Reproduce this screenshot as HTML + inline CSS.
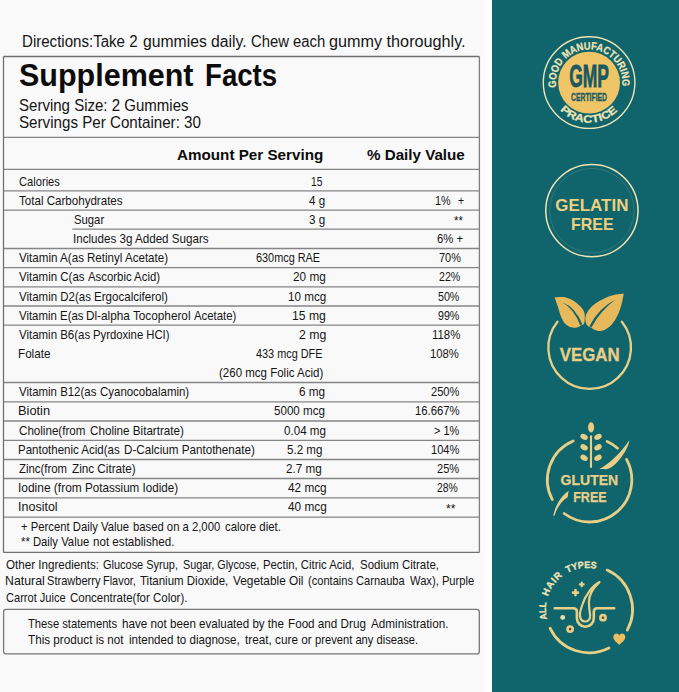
<!DOCTYPE html>
<html><head><meta charset="utf-8"><title>Supplement Facts</title>
<style>
html,body{margin:0;padding:0}
body{width:679px;height:692px;position:relative;overflow:hidden;background:#f9f9f9;font-family:"Liberation Sans",sans-serif;color:#151515}
.t{position:absolute;white-space:pre;line-height:1;transform-origin:0 0;display:block}
#white{position:absolute;left:481px;top:0;width:12px;height:692px;background:linear-gradient(90deg,#f9f9f9 0,#fdfdfd 45%,#fff 75%)}
#side{position:absolute;left:492px;top:0;width:187px;height:692px;background:#10646c}
#badges,#lines{position:absolute;left:0;top:0}
</style></head><body>
<svg id="lines" width="679" height="692" viewBox="0 0 679 692" fill="none" stroke-width="1.3">
<line x1="3.5" y1="56.5" x2="479.4" y2="56.5" stroke="#707070"/>
<line x1="3.5" y1="137.3" x2="479.4" y2="137.3" stroke="#858585"/>
<line x1="3.5" y1="169.4" x2="479.4" y2="169.4" stroke="#858585"/>
<line x1="3.5" y1="190.8" x2="479.4" y2="190.8" stroke="#858585"/>
<line x1="3.5" y1="210.2" x2="479.4" y2="210.2" stroke="#858585"/>
<line x1="72.2" y1="229.2" x2="479.4" y2="229.2" stroke="#858585"/>
<line x1="3.5" y1="248.5" x2="479.4" y2="248.5" stroke="#858585"/>
<line x1="3.5" y1="267.7" x2="479.4" y2="267.7" stroke="#858585"/>
<line x1="3.5" y1="286.9" x2="479.4" y2="286.9" stroke="#858585"/>
<line x1="3.5" y1="306.0" x2="479.4" y2="306.0" stroke="#858585"/>
<line x1="3.5" y1="325.2" x2="479.4" y2="325.2" stroke="#858585"/>
<line x1="3.5" y1="382.5" x2="479.4" y2="382.5" stroke="#858585"/>
<line x1="3.5" y1="401.8" x2="479.4" y2="401.8" stroke="#858585"/>
<line x1="3.5" y1="421.0" x2="479.4" y2="421.0" stroke="#858585"/>
<line x1="3.5" y1="440.3" x2="479.4" y2="440.3" stroke="#858585"/>
<line x1="3.5" y1="459.5" x2="479.4" y2="459.5" stroke="#858585"/>
<line x1="3.5" y1="478.5" x2="479.4" y2="478.5" stroke="#858585"/>
<line x1="3.5" y1="497.8" x2="479.4" y2="497.8" stroke="#858585"/>
<line x1="3.5" y1="517.1" x2="479.4" y2="517.1" stroke="#858585"/>
<line x1="3.5" y1="552.4" x2="479.4" y2="552.4" stroke="#707070"/>
<line x1="3.5" y1="56.5" x2="3.5" y2="552.4" stroke="#707070"/>
<line x1="479.4" y1="56.5" x2="479.4" y2="552.4" stroke="#808080"/>
<rect x="3.6" y="609.4" width="475.7" height="44.5" rx="2.5" stroke="#777"/>
</svg>
<span class="t" style="left:22.06px;top:34px;font-size:16.0px;transform:scaleX(0.9416)">Directions:Take 2</span>
<span class="t" style="left:143.40px;top:34px;font-size:16.0px;transform:scaleX(0.9820)">gummies daily.</span>
<span class="t" style="left:250.60px;top:34px;font-size:16.0px;transform:scaleX(0.9274)">Chew each</span>
<span class="t" style="left:329.40px;top:34px;font-size:16.0px;transform:scaleX(1.0125)">gummy thoroughly.</span>
<span class="t" style="left:19.30px;top:60px;font-size:31px;transform:scaleX(0.9837);font-weight:700;color:#0c0c0c">Supplement</span>
<span class="t" style="left:205.02px;top:60px;font-size:31px;transform:scaleX(0.8914);font-weight:700;color:#0c0c0c">Facts</span>
<span class="t" style="left:18.80px;top:98px;font-size:15.7px;transform:scaleX(0.9580)">Serving Size: 2 Gummies</span>
<span class="t" style="left:18.80px;top:115px;font-size:15.7px;transform:scaleX(0.9659)">Servings Per Container: 30</span>
<span class="t" style="left:176.50px;top:147px;font-size:15.2px;transform:scaleX(1.0019);font-weight:700;color:#0c0c0c">Amount Per Serving</span>
<span class="t" style="left:367.00px;top:147px;font-size:15.2px;transform:scaleX(0.9982);font-weight:700;color:#0c0c0c">% Daily Value</span>
<span class="t" style="left:19.20px;top:176px;font-size:12.2px;transform:scaleX(0.9146)">Calories</span>
<span class="t" style="left:310.90px;top:176px;font-size:12.2px;transform:scaleX(0.8347)">15</span>
<span class="t" style="left:19.20px;top:195px;font-size:12.2px;transform:scaleX(0.9498)">Total Carbohydrates</span>
<span class="t" style="left:309.10px;top:195px;font-size:12.2px;transform:scaleX(0.9527)">4 g</span>
<span class="t" style="left:434.60px;top:195px;font-size:12.2px;transform:scaleX(0.8831)">1%</span>
<span class="t" style="left:457.60px;top:195px;font-size:12.2px;transform:scaleX(0.8571)">+</span>
<span class="t" style="left:73.60px;top:214px;font-size:12.2px;transform:scaleX(0.9272)">Sugar</span>
<span class="t" style="left:309.10px;top:214px;font-size:12.2px;transform:scaleX(0.9527)">3 g</span>
<span class="t" style="left:454.00px;top:215px;font-size:12.2px;transform:scaleX(0.9340)">**</span>
<span class="t" style="left:72.65px;top:233px;font-size:12.2px;transform:scaleX(0.9530)">Includes 3g Added Sugars</span>
<span class="t" style="left:436.90px;top:233px;font-size:12.2px;transform:scaleX(0.9285)">6% +</span>
<span class="t" style="left:19.20px;top:252px;font-size:12.2px;transform:scaleX(0.9524)">Vitamin A(as</span>
<span class="t" style="left:87.45px;top:252px;font-size:12.2px;transform:scaleX(0.9498)">Retinyl Acetate)</span>
<span class="t" style="left:256.00px;top:252px;font-size:12.2px;transform:scaleX(0.8929)">630mcg RAE</span>
<span class="t" style="left:439.00px;top:252px;font-size:12.2px;transform:scaleX(0.8959)">70%</span>
<span class="t" style="left:19.20px;top:271px;font-size:12.2px;transform:scaleX(0.9432)">Vitamin C(as</span>
<span class="t" style="left:88.40px;top:271px;font-size:12.2px;transform:scaleX(0.9328)">Ascorbic Acid)</span>
<span class="t" style="left:293.00px;top:271px;font-size:12.2px;transform:scaleX(0.9669)">20 mg</span>
<span class="t" style="left:438.50px;top:271px;font-size:12.2px;transform:scaleX(0.8755)">22%</span>
<span class="t" style="left:19.20px;top:291px;font-size:12.2px;transform:scaleX(0.9420)">Vitamin D2(as</span>
<span class="t" style="left:93.75px;top:291px;font-size:12.2px;transform:scaleX(0.9488)">Ergocalciferol)</span>
<span class="t" style="left:287.50px;top:291px;font-size:12.2px;transform:scaleX(0.9569)">10 mcg</span>
<span class="t" style="left:438.00px;top:291px;font-size:12.2px;transform:scaleX(0.8755)">50%</span>
<span class="t" style="left:19.20px;top:310px;font-size:12.2px;transform:scaleX(0.9365)">Vitamin E(as</span>
<span class="t" style="left:86.33px;top:310px;font-size:12.2px;transform:scaleX(0.9664)">Dl-alpha Tocopherol</span>
<span class="t" style="left:194.10px;top:310px;font-size:12.2px;transform:scaleX(0.9332)">Acetate)</span>
<span class="t" style="left:292.00px;top:310px;font-size:12.2px;transform:scaleX(0.9971)">15 mg</span>
<span class="t" style="left:438.00px;top:310px;font-size:12.2px;transform:scaleX(0.8755)">99%</span>
<span class="t" style="left:19.20px;top:329px;font-size:12.2px;transform:scaleX(0.9411)">Vitamin B6(as</span>
<span class="t" style="left:92.97px;top:329px;font-size:12.2px;transform:scaleX(0.9256)">Pyrdoxine HCI)</span>
<span class="t" style="left:298.50px;top:329px;font-size:12.2px;transform:scaleX(1.0070)">2 mg</span>
<span class="t" style="left:431.50px;top:329px;font-size:12.2px;transform:scaleX(0.9366)">118%</span>
<span class="t" style="left:18.24px;top:348px;font-size:12.2px;transform:scaleX(0.9579)">Folate</span>
<span class="t" style="left:256.30px;top:348px;font-size:12.2px;transform:scaleX(0.8928)">433 mcg DFE</span>
<span class="t" style="left:429.80px;top:348px;font-size:12.2px;transform:scaleX(0.9255)">108%</span>
<span class="t" style="left:218.90px;top:367px;font-size:12.2px;transform:scaleX(0.9440)">(260 mcg Folic Acid)</span>
<span class="t" style="left:19.20px;top:386px;font-size:12.2px;transform:scaleX(0.9389)">Vitamin B12(as</span>
<span class="t" style="left:100.20px;top:386px;font-size:12.2px;transform:scaleX(0.9401)">Cyanocobalamin)</span>
<span class="t" style="left:299.00px;top:386px;font-size:12.2px;transform:scaleX(0.9652)">6 mg</span>
<span class="t" style="left:430.80px;top:386px;font-size:12.2px;transform:scaleX(0.9095)">250%</span>
<span class="t" style="left:18.15px;top:405px;font-size:12.2px;transform:scaleX(1.0520)">Biotin</span>
<span class="t" style="left:274.20px;top:405px;font-size:12.2px;transform:scaleX(0.9518)">5000 mcg</span>
<span class="t" style="left:414.50px;top:405px;font-size:12.2px;transform:scaleX(0.9280)">16.667%</span>
<span class="t" style="left:19.20px;top:425px;font-size:12.2px;transform:scaleX(0.9524)">Choline(from</span>
<span class="t" style="left:89.90px;top:425px;font-size:12.2px;transform:scaleX(0.9566)">Choline Bitartrate)</span>
<span class="t" style="left:284.40px;top:425px;font-size:12.2px;transform:scaleX(0.9524)">0.04 mg</span>
<span class="t" style="left:433.90px;top:425px;font-size:12.2px;transform:scaleX(0.8981)">&gt; 1%</span>
<span class="t" style="left:18.26px;top:444px;font-size:12.2px;transform:scaleX(0.9441)">Pantothenic Acid(as</span>
<span class="t" style="left:123.94px;top:444px;font-size:12.2px;transform:scaleX(0.9567)">D-Calcium Pantothenate)</span>
<span class="t" style="left:287.20px;top:444px;font-size:12.2px;transform:scaleX(0.9484)">5.2 mg</span>
<span class="t" style="left:431.30px;top:444px;font-size:12.2px;transform:scaleX(0.9095)">104%</span>
<span class="t" style="left:19.20px;top:463px;font-size:12.2px;transform:scaleX(0.9336)">Zinc(from</span>
<span class="t" style="left:71.50px;top:463px;font-size:12.2px;transform:scaleX(0.9607)">Zinc Citrate)</span>
<span class="t" style="left:286.40px;top:463px;font-size:12.2px;transform:scaleX(0.9567)">2.7 mg</span>
<span class="t" style="left:436.90px;top:463px;font-size:12.2px;transform:scaleX(0.9122)">25%</span>
<span class="t" style="left:18.22px;top:482px;font-size:12.2px;transform:scaleX(0.9801)">Iodine (from</span>
<span class="t" style="left:85.25px;top:482px;font-size:12.2px;transform:scaleX(0.9545)">Potassium Iodide)</span>
<span class="t" style="left:287.70px;top:482px;font-size:12.2px;transform:scaleX(0.9671)">42 mcg</span>
<span class="t" style="left:436.90px;top:482px;font-size:12.2px;transform:scaleX(0.8511)">28%</span>
<span class="t" style="left:18.17px;top:501px;font-size:12.2px;transform:scaleX(1.0269)">Inositol</span>
<span class="t" style="left:288.20px;top:501px;font-size:12.2px;transform:scaleX(0.9697)">40 mcg</span>
<span class="t" style="left:445.60px;top:503px;font-size:12.2px;transform:scaleX(0.9853)">**</span>
<span class="t" style="left:20.60px;top:521px;font-size:12.2px;transform:scaleX(0.9268)">+ Percent Daily Value</span>
<span class="t" style="left:133.20px;top:521px;font-size:12.2px;transform:scaleX(0.9257)">based on a 2,000</span>
<span class="t" style="left:225.10px;top:521px;font-size:12.2px;transform:scaleX(0.9370)">calore diet.</span>
<span class="t" style="left:20.50px;top:536px;font-size:12.2px;transform:scaleX(0.9264)">** Daily Value</span>
<span class="t" style="left:93.40px;top:536px;font-size:12.2px;transform:scaleX(0.9531)">not established.</span>
<span class="t" style="left:5.80px;top:559px;font-size:12.2px;transform:scaleX(0.9530)">Other Ingredients:</span>
<span class="t" style="left:103.40px;top:559px;font-size:12.2px;transform:scaleX(0.8995)">Glucose Syrup,</span>
<span class="t" style="left:183.00px;top:559px;font-size:12.2px;transform:scaleX(0.8862)">Sugar, Glycose,</span>
<span class="t" style="left:262.97px;top:559px;font-size:12.2px;transform:scaleX(0.9303)">Pectin, Citric Acid,</span>
<span class="t" style="left:359.60px;top:559px;font-size:12.2px;transform:scaleX(0.9401)">Sodium Citrate,</span>
<span class="t" style="left:4.79px;top:575px;font-size:12.2px;transform:scaleX(1.0112)">Natural</span>
<span class="t" style="left:47.10px;top:575px;font-size:12.2px;transform:scaleX(0.9076)">Strawberry</span>
<span class="t" style="left:102.50px;top:575px;font-size:12.2px;transform:scaleX(0.8980)">Flavor,</span>
<span class="t" style="left:140.20px;top:575px;font-size:12.2px;transform:scaleX(0.9420)">Titanium Dioxide,</span>
<span class="t" style="left:233.40px;top:575px;font-size:12.2px;transform:scaleX(0.9723)">Vegetable Oil</span>
<span class="t" style="left:307.70px;top:575px;font-size:12.2px;transform:scaleX(0.9091)">(contains Carnauba</span>
<span class="t" style="left:409.60px;top:575px;font-size:12.2px;transform:scaleX(0.9173)">Wax), Purple</span>
<span class="t" style="left:5.80px;top:592px;font-size:12.2px;transform:scaleX(0.9072)">Carrot Juice</span>
<span class="t" style="left:70.10px;top:592px;font-size:12.2px;transform:scaleX(0.9425)">Concentrate(for Color).</span>
<span class="t" style="left:28.00px;top:618px;font-size:12.2px;transform:scaleX(0.9197)">These statements</span>
<span class="t" style="left:121.80px;top:618px;font-size:12.2px;transform:scaleX(0.9572)">have not been</span>
<span class="t" style="left:199.40px;top:618px;font-size:12.2px;transform:scaleX(0.9491)">evaluated by the</span>
<span class="t" style="left:288.44px;top:618px;font-size:12.2px;transform:scaleX(0.9582)">Food and Drug</span>
<span class="t" style="left:370.70px;top:618px;font-size:12.2px;transform:scaleX(0.9611)">Administration.</span>
<span class="t" style="left:28.00px;top:634px;font-size:12.2px;transform:scaleX(0.9602)">This product is not</span>
<span class="t" style="left:129.20px;top:634px;font-size:12.2px;transform:scaleX(0.9503)">intended to diagnose,</span>
<span class="t" style="left:245.10px;top:634px;font-size:12.2px;transform:scaleX(0.9662)">treat, cure or</span>
<span class="t" style="left:315.20px;top:634px;font-size:12.2px;transform:scaleX(0.9172)">prevent any disease.</span>
<div id="white"></div><div id="side"></div>
<svg id="badges" width="679" height="692" viewBox="0 0 679 692" font-family="'Liberation Sans',sans-serif" font-weight="700">
<g>
<circle cx="589.1" cy="82.6" r="45.8" fill="none" stroke="#f0e4b4" stroke-width="1.4"/>
<circle cx="589.1" cy="82.6" r="30.9" fill="#efc567"/>
<path id="gmpTop" d="M556.26,87.51A33.2,33.2 0 1 1 622.09,86.36" fill="none"/>
<path id="gmpBot" d="M560.09,110.13A40.0,40.0 0 0 0 618.11,110.13" fill="none"/>
<text font-size="10.6" fill="#f0e4b4" stroke="#f0e4b4" stroke-width="0.25"><textPath href="#gmpTop" textLength="112.5" lengthAdjust="spacingAndGlyphs">GOOD MANUFACTURING</textPath></text>
<text font-size="10.6" fill="#f0e4b4" stroke="#f0e4b4" stroke-width="0.25"><textPath href="#gmpBot" textLength="64" lengthAdjust="spacingAndGlyphs">PRACTICE</textPath></text>
<text x="569.2" y="87.4" font-size="31" fill="#185962" stroke="#185962" stroke-width="0.8" textLength="39.8" lengthAdjust="spacingAndGlyphs">GMP</text>
<text x="571" y="100.6" font-size="10.4" fill="#185962" stroke="#185962" stroke-width="0.3" textLength="36" lengthAdjust="spacingAndGlyphs">CERTIFIED</text>
</g>
<g>
<circle cx="591.9" cy="210.6" r="46.1" fill="none" stroke="#f0e4b4" stroke-width="1.5"/>
<circle cx="591.9" cy="210.6" r="42.2" fill="none" stroke="#f0e4b4" stroke-width="0.5" opacity="0.3"/>
<text x="555.3" y="210.6" font-size="17" fill="#ecd07f" textLength="73.1" lengthAdjust="spacingAndGlyphs">GELATIN</text>
<text x="571" y="230.4" font-size="17" fill="#ecd07f" textLength="42.6" lengthAdjust="spacingAndGlyphs">FREE</text>
</g>
<g>
<path d="M621.84,321.72A41.3,41.3 0 1 1 557.46,321.72" fill="none" stroke="#e9cf86" stroke-width="2.3" stroke-linecap="round"/>
<path d="M554.6,297.4C556.1,297.3 560.8,296.7 563.7,297.1C566.6,297.6 569.5,298.6 572.2,300.1C574.9,301.6 578.0,304.1 580.0,306.1C582.0,308.1 583.4,310.2 584.2,312.2C585.0,314.2 584.8,316.3 584.8,318.2C584.8,320.1 584.6,322.4 584.0,323.6C583.4,324.8 582.4,325.0 581.2,325.6C580.0,326.2 578.7,327.2 577.0,327.5C575.3,327.8 572.9,327.9 570.9,327.3C568.9,326.7 566.6,325.5 564.9,323.6C563.2,321.7 561.9,318.7 560.7,315.8C559.5,312.9 558.7,309.2 557.7,306.1C556.7,303.0 555.1,298.8 554.6,297.4Z" fill="#e8b95b"/>
<path d="M623.8,293.8C623.4,295.4 622.7,300.2 621.7,303.7C620.7,307.2 619.6,311.2 618.0,314.6C616.4,318.0 614.2,321.7 612.0,324.2C609.8,326.7 607.0,328.6 604.8,329.7C602.6,330.8 600.4,330.9 598.7,330.9C597.0,330.9 595.9,330.3 594.5,329.7C593.1,329.1 591.4,327.8 590.3,327.2C589.2,326.6 588.7,326.7 588.0,326.0C587.3,325.3 586.4,324.5 586.0,323.0C585.6,321.5 585.1,319.1 585.5,317.0C585.9,314.9 586.9,312.5 588.5,310.3C590.1,308.1 592.4,305.7 595.1,303.7C597.8,301.7 601.4,299.8 604.8,298.3C608.2,296.8 612.4,295.4 615.6,294.6C618.8,293.9 622.4,293.9 623.8,293.8Z" fill="#e8b95b"/>
<path d="M561.9,301.9 Q574.5,309 580.3,325.6 L582.2,324.3 Q576,307.5 561.9,301.9Z" fill="#10646c"/>
<path d="M615.6,299.5 Q598.5,308 589.6,326 L591.4,327.4 Q600.5,310.5 615.6,299.5Z" fill="#10646c"/>
<text x="559.7" y="360.5" font-size="18.8" fill="#e9cf86" stroke="#e9cf86" stroke-width="0.3" textLength="59.9" lengthAdjust="spacingAndGlyphs">VEGAN</text>
</g>
<g>
<path d="M552.34,499.61A42.2,42.2 0 0 1 573.18,440.93" fill="none" stroke="#e9cf86" stroke-width="2.8" stroke-linecap="round"/>
<path d="M564.20,513.50A42.2,42.2 0 0 0 626.54,459.41" fill="none" stroke="#e9cf86" stroke-width="2.8" stroke-linecap="round"/>
<path d="M607.17,441.43A42.2,42.2 0 0 1 617.56,448.19" fill="none" stroke="#e9cf86" stroke-width="2.8" stroke-linecap="round"/>
<path d="M599.2,469.1 C607.8,465.2 621.4,452.4 629.3,440.3 C629.5,448.1 613.1,472.5 604,469 Z" fill="#e9cf86"/>
<path d="M568.7,490.7 C561,496 555.5,505 553.2,515.7 L554.4,515.7 C557,508 561,501.5 567.6,497.3 Z" fill="#e9cf86"/>
<line x1="591" y1="436.3" x2="591" y2="467" stroke="#e9cf86" stroke-width="2.1" stroke-linecap="round"/>
<ellipse cx="591.1" cy="427.4" rx="3" ry="5.1" fill="#e9cf86"/>
<ellipse cx="584.1" cy="436.9" rx="3.9" ry="2.7" fill="#e9cf86" transform="rotate(28 584.1 436.9)"/>
<ellipse cx="598" cy="436.9" rx="3.9" ry="2.7" fill="#e9cf86" transform="rotate(-28 598 436.9)"/>
<ellipse cx="584.1" cy="447.3" rx="3.9" ry="2.7" fill="#e9cf86" transform="rotate(28 584.1 447.3)"/>
<ellipse cx="598" cy="447.3" rx="3.9" ry="2.7" fill="#e9cf86" transform="rotate(-28 598 447.3)"/>
<ellipse cx="584.1" cy="457.8" rx="3.9" ry="2.7" fill="#e9cf86" transform="rotate(28 584.1 457.8)"/>
<ellipse cx="598" cy="457.8" rx="3.9" ry="2.7" fill="#e9cf86" transform="rotate(-28 598 457.8)"/>
<text x="560.6" y="485.3" font-size="15.2" fill="#e9cf86" stroke="#e9cf86" stroke-width="0.25" textLength="57.6" lengthAdjust="spacingAndGlyphs">GLUTEN</text>
<text x="573.2" y="501.5" font-size="15.2" fill="#e9cf86" stroke="#e9cf86" stroke-width="0.25" textLength="33.4" lengthAdjust="spacingAndGlyphs">FREE</text>
</g>
<g>
<path d="M607.16,570.10A43.3,43.3 0 0 1 627.29,630.09" fill="none" stroke="#e8cf86" stroke-width="2.8" stroke-linecap="round"/>
<path d="M608.93,648.05A43.3,43.3 0 0 1 550.18,628.28" fill="none" stroke="#e8cf86" stroke-width="2.8" stroke-linecap="round"/>
<path id="hairTxt0" d="M547.13,619.29A41.3,41.3 0 0 1 570.40,571.57" fill="none"/>
<text font-size="9.5" fill="#f0e4b4" stroke="#f0e4b4" stroke-width="0.3"><textPath href="#hairTxt0" textLength="17.0" lengthAdjust="spacingAndGlyphs">ALL</textPath></text>
<path id="hairTxt1" d="M547.92,596.54A41.3,41.3 0 0 1 592.95,568.40" fill="none"/>
<text font-size="9.5" fill="#f0e4b4" stroke="#f0e4b4" stroke-width="0.3"><textPath href="#hairTxt1" textLength="25.6" lengthAdjust="spacing">HAIR</textPath></text>
<path id="hairTxt2" d="M567.56,572.97A41.3,41.3 0 0 1 619.57,583.65" fill="none"/>
<text font-size="9.5" fill="#f0e4b4" stroke="#f0e4b4" stroke-width="0.3"><textPath href="#hairTxt2" textLength="29.4" lengthAdjust="spacingAndGlyphs">TYPES</textPath></text>
<path d="M554.7,608.3 H573.4 Q576.9,608.3 576.9,611.8 V618.3 A8.45,8.45 0 0 0 593.8,618.3 V611.8 Q593.8,608.3 597.3,608.3 H614.2" fill="none" stroke="#e8cf86" stroke-width="2.6" stroke-linecap="round" stroke-linejoin="round"/>
<path d="M599.5,582.1 C592,586 585,596 582.4,604.5 C580.5,610 579.6,614 580,616 C580.5,620 583,621.5 585.1,621.5 C587.5,621.5 590.3,620 590.1,615.6 C590,613 589,609 588.9,602.1 C588.9,596 593,588 599.5,582.1Z" fill="none" stroke="#e8cf86" stroke-width="2.2" stroke-linejoin="round"/>
<path d="M579.9,584.4H583.6999999999999M581.8,582.5V586.3" stroke="#e8cf86" stroke-width="2.2" stroke-linecap="round"/>
<path d="M573.0,592.6H578.0M575.5,590.1V595.1" stroke="#e8cf86" stroke-width="2.6" stroke-linecap="round"/>
<circle cx="562.7" cy="617.4" r="2.4" fill="#e6e2b0"/>
<circle cx="603" cy="617.7" r="3.9" fill="#e8cf86"/>
<circle cx="603" cy="617.7" r="1.3" fill="#5f4a22"/>
<circle cx="570.1" cy="629.1" r="3.9" fill="#e8cf86"/>
<circle cx="570.1" cy="629.1" r="1.3" fill="#5f4a22"/>
<path transform="translate(619.3,639.4) scale(0.5)" d="M0,11 C-5,6 -12,1 -12,-5 C-12,-10 -8,-12 -5.5,-12 C-2.5,-12 -0.8,-10 0,-8 C0.8,-10 2.5,-12 5.5,-12 C8,-12 12,-10 12,-5 C12,1 5,6 0,11Z" fill="#ebbf5e"/>
</g>
</svg>
</body></html>
